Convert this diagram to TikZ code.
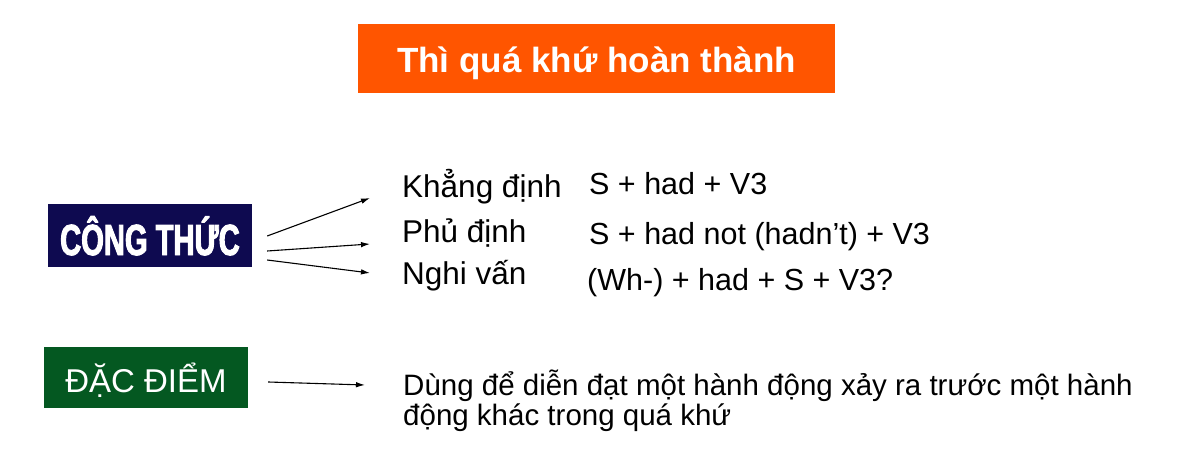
\documentclass[tikz,border=0pt]{standalone}
\usepackage{fontspec}
\setmainfont{Liberation Sans}
\newfontfamily\condfont[FakeStretch=0.67,FakeBold=2.2]{Liberation Sans Bold}
\usetikzlibrary{arrows.meta}
\definecolor{titleorange}{RGB}{255,85,0}
\definecolor{navybox}{RGB}{14,10,80}
\definecolor{greenbox}{RGB}{4,88,33}
\tikzset{
  arr/.style={line width=1.1pt,-{Latex[length=9pt,width=5.5pt]}},
  lbl/.style={inner sep=0pt,anchor=base west,font=\fontsize{31.5}{31.5}\selectfont},
  fml/.style={inner sep=0pt,anchor=base west,font=\fontsize{30.5}{30.5}\selectfont},
}
\begin{document}
\begin{tikzpicture}[x=1pt,y=-1pt]
\fill[white] (0,0) rectangle (1200,476);
\useasboundingbox (0,0) rectangle (1200,476);
% title
\node[fill=titleorange,text=white,inner sep=0pt,minimum width=477pt,minimum height=69pt,
      text height=29pt,text depth=0pt,font=\bfseries\fontsize{35}{35}\selectfont]
  (title) at (596.5,58.5) {Thì quá khứ hoàn thành};
% cong thuc
\node[fill=navybox,text=white,inner sep=0pt,minimum width=204pt,minimum height=63pt,
      text height=39pt,text depth=0pt,font=\condfont\fontsize{43.5}{43.5}\selectfont]
  (cong) at (150,235.5) {CÔNG THỨC};
% labels
\node[lbl] (khang) at (402,197) {Khẳng định};
\node[lbl] (phu) at (402,242) {Phủ định};
\node[lbl] (nghi) at (402,284) {Nghi vấn};
% formulas
\node[fml] (f1) at (589,194) {S + had + V3};
\node[fml] (f2) at (589,244) {S + had not (hadn’t) + V3};
\node[fml] (f3) at (587,290) {(Wh-) + had + S + V3?};
% arrows
\draw[arr] ([shift={(15,0.5)}]cong.east) -- ([shift={(-32,1)}]khang.base west);
\draw[arr] ([shift={(15,15.5)}]cong.east) -- ([shift={(-32,2)}]phu.base west);
\draw[arr] ([shift={(15,24.5)}]cong.east) -- ([shift={(-32,-11)}]nghi.base west);
% dac diem
\node[fill=greenbox,text=white,inner sep=0pt,minimum width=204pt,minimum height=61pt,
      text height=29pt,text depth=0pt,font=\fontsize{33}{33}\selectfont]
  (dac) at (146,377.5) {ĐẶC ĐIỂM};
\node[inner sep=0pt,anchor=base west,align=left,font=\fontsize{29.5}{30}\selectfont]
  (desc) at (403,425) {Dùng để diễn đạt một hành động xảy ra trước một hành\\động khác trong quá khứ};
\draw[arr] ([shift={(20,4.5)}]dac.east) -- ([shift={(-38,-40)}]desc.base west);
\end{tikzpicture}
\end{document}
